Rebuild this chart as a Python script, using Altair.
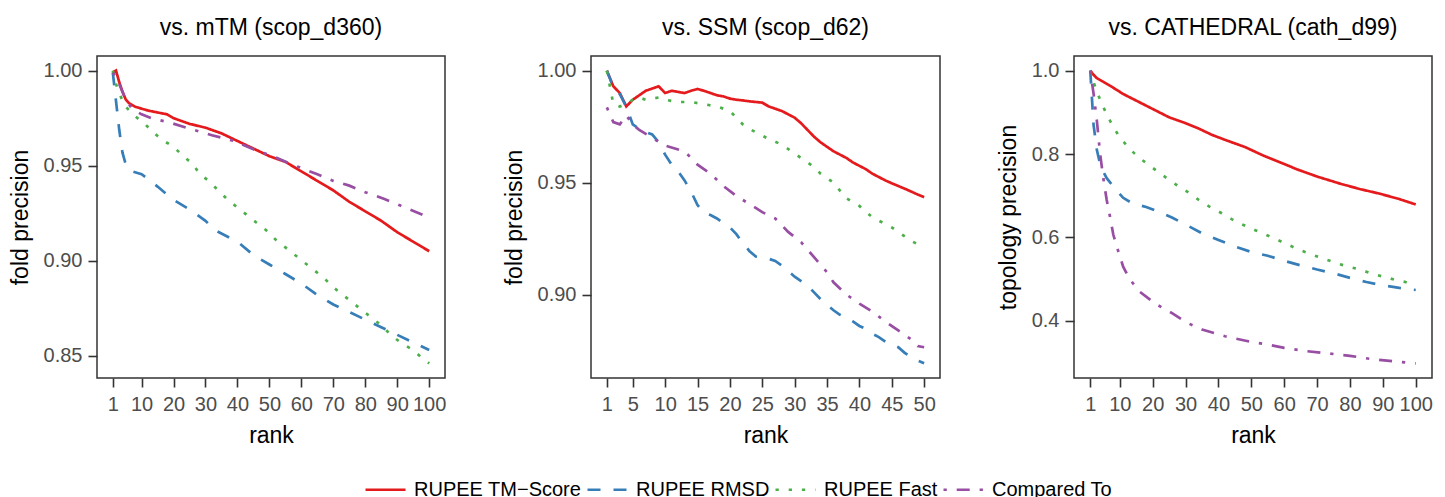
import altair as alt
import pandas as pd

SERIES = ["RUPEE TM\u2212Score", "RUPEE RMSD", "RUPEE Fast", "Compared To"]
COLORS = ["#E41A1C", "#377EB8", "#4DAF4A", "#984EA3"]
DASHES = [[1, 0], [13, 13], [3.3, 9.9], [3.3, 9.9, 13, 9.9]]

# ---------- Panel 1: vs. mTM (scop_d360) ----------
p1_tm_rank = [1, 2, 3, 4, 5, 6, 8, 10, 12, 15, 18, 20, 25, 30, 35, 40, 45, 50, 55, 60, 65, 70, 75, 80, 85, 90, 95, 100]
p1_tm_val = [0.999, 1.000, 0.994, 0.989, 0.985, 0.983, 0.981, 0.980, 0.979, 0.978, 0.977, 0.975, 0.972, 0.970, 0.967,
             0.963, 0.959, 0.955, 0.952, 0.947, 0.942, 0.937, 0.931, 0.926, 0.921, 0.915, 0.910, 0.905]
p1_rmsd_rank = [1, 2, 3, 4, 5, 6, 7, 9, 10, 12, 15, 20, 25, 30, 33, 40, 45, 50, 55, 60, 65, 70, 75, 80, 85, 90, 95, 100]
p1_rmsd_val = [0.999, 0.984, 0.969, 0.957, 0.951, 0.948, 0.947, 0.946, 0.9455, 0.943, 0.939, 0.932, 0.927, 0.921, 0.916,
               0.910, 0.903, 0.898, 0.893, 0.888, 0.882, 0.877, 0.873, 0.869, 0.865, 0.861, 0.857, 0.853]
p1_fast_rank = [1, 2, 3, 5, 8, 11, 14, 17, 20, 23, 26, 28, 31, 34, 37, 40, 43, 46, 49, 52, 55, 58, 61, 64, 67, 70, 73,
                76, 79, 82, 85, 88, 91, 94, 97, 100]
p1_fast_val = [1.000, 0.993, 0.988, 0.981, 0.976, 0.972, 0.967, 0.963, 0.960, 0.955, 0.951, 0.946, 0.942, 0.937, 0.932,
               0.928, 0.924, 0.920, 0.916, 0.911, 0.907, 0.903, 0.899, 0.895, 0.891, 0.886, 0.882, 0.878, 0.874, 0.870,
               0.866, 0.861, 0.857, 0.854, 0.850, 0.846]
p1_cmp_rank = [1, 2, 3, 4, 5, 7, 10, 13, 19, 24, 32, 39, 45, 51, 57, 65, 70, 75, 80, 86, 91, 100]
p1_cmp_val = [0.999, 0.997, 0.993, 0.989, 0.985, 0.980, 0.977, 0.975, 0.9726, 0.970, 0.966, 0.963, 0.9586, 0.955,
              0.9507, 0.9455, 0.942, 0.9395, 0.936, 0.9325, 0.929, 0.9228]

# ---------- Panel 2: vs. SSM (scop_d62) ----------
p2_tm_rank = list(range(1, 51))
p2_tm_val = [1.000, 0.993, 0.990, 0.984, 0.987, 0.989, 0.991, 0.992, 0.993, 0.990, 0.991, 0.9905, 0.990, 0.991, 0.9918,
             0.991, 0.990, 0.989, 0.9885, 0.9875, 0.987, 0.9867, 0.9863, 0.986, 0.9857, 0.984, 0.983, 0.982, 0.9805,
             0.979, 0.9765, 0.9735, 0.9705, 0.968, 0.966, 0.964, 0.9625, 0.961, 0.959, 0.9575, 0.956, 0.954, 0.9525,
             0.951, 0.9497, 0.9485, 0.9473, 0.946, 0.9447, 0.9435]
p2_rmsd_rank = [1, 2, 3, 4, 5, 6, 7, 8, 9, 10, 11, 12, 13, 14, 15, 16, 17, 18, 19, 20, 21, 22, 23, 24, 26, 27, 28, 29,
                30, 31, 32, 33, 34, 35, 36, 37, 38, 39, 40, 41, 42, 43, 44, 45, 46, 47, 48, 49, 50]
p2_rmsd_val = [1.000, 0.9926, 0.9895, 0.984, 0.976, 0.974, 0.9725, 0.9715, 0.968, 0.9625, 0.958, 0.955, 0.951, 0.946,
               0.940, 0.9365, 0.9355, 0.934, 0.932, 0.930, 0.927, 0.923, 0.9195, 0.917, 0.916, 0.915, 0.913, 0.9105,
               0.908, 0.906, 0.904, 0.901, 0.898, 0.8955, 0.893, 0.891, 0.8895, 0.888, 0.886, 0.8847, 0.8825, 0.881,
               0.879, 0.8778, 0.8765, 0.874, 0.872, 0.8705, 0.8693]
p2_fast_rank = [1, 2, 3, 4, 5, 6, 7, 8, 9, 10, 12, 14, 16, 18, 20, 21, 22, 23, 25, 26, 28, 30, 31, 33, 34, 36, 37, 38,
                40, 42, 43, 45, 47, 48, 50]
p2_fast_val = [1.000, 0.985, 0.984, 0.985, 0.987, 0.988, 0.987, 0.9875, 0.988, 0.987, 0.986, 0.986, 0.985, 0.984,
               0.982, 0.979, 0.976, 0.974, 0.971, 0.9695, 0.967, 0.963, 0.961, 0.957, 0.954, 0.950, 0.9464, 0.943,
               0.9396, 0.9345, 0.933, 0.930, 0.926, 0.924, 0.921]
p2_cmp_rank = [1, 2, 3, 4, 5, 6, 8, 10, 13, 15, 17, 19, 21, 23, 25, 27, 29, 31, 33, 35, 36, 38, 40, 42, 44, 46, 48, 49, 50]
p2_cmp_val = [0.9836, 0.977, 0.976, 0.980, 0.976, 0.9735, 0.970, 0.9665, 0.964, 0.958, 0.954, 0.9485, 0.944, 0.9405,
              0.9368, 0.934, 0.928, 0.9234, 0.9167, 0.910, 0.9055, 0.900, 0.896, 0.8924, 0.888, 0.884, 0.880, 0.877,
              0.8765]

# ---------- Panel 3: vs. CATHEDRAL (cath_d99) ----------
p3_tm_rank = [1, 2, 3, 5, 8, 11, 14, 18, 22, 25, 30, 34, 38, 42, 48, 54, 60, 64, 70, 77, 83, 89, 95, 100]
p3_tm_val = [1.000, 0.990, 0.982, 0.973, 0.959, 0.944, 0.932, 0.916, 0.900, 0.888, 0.874, 0.861, 0.846, 0.834, 0.817,
             0.795, 0.776, 0.763, 0.746, 0.729, 0.716, 0.705, 0.692, 0.679]
p3_rmsd_rank = [1, 2, 3, 4, 5, 6, 9, 11, 14, 16, 18, 22, 26, 30, 35, 40, 45, 50, 55, 60, 65, 70, 75, 80, 85, 90, 95, 100]
p3_rmsd_val = [1.000, 0.870, 0.810, 0.775, 0.757, 0.742, 0.713, 0.695, 0.681, 0.677, 0.673, 0.661, 0.647, 0.631, 0.610,
               0.594, 0.578, 0.565, 0.556, 0.544, 0.533, 0.523, 0.514, 0.503, 0.493, 0.485, 0.479, 0.474]
p3_fast_rank = [1, 2, 4, 6, 8, 10, 13, 16, 19, 22, 25, 28, 31, 34, 37, 41, 44, 47, 51, 54, 58, 61, 65, 68, 72, 76, 79,
                83, 86, 90, 94, 97, 100]
p3_fast_val = [1.000, 0.972, 0.930, 0.895, 0.865, 0.840, 0.812, 0.790, 0.773, 0.755, 0.738, 0.722, 0.707, 0.690, 0.675,
               0.658, 0.644, 0.632, 0.618, 0.608, 0.594, 0.583, 0.569, 0.560, 0.549, 0.538, 0.531, 0.523, 0.515, 0.506,
               0.498, 0.493, 0.489]
p3_cmp_rank = [1, 2, 3, 4, 5, 6, 7, 8, 9, 10, 11, 13, 16, 21, 26, 30, 35, 42, 49, 55, 60, 66, 72, 80, 86, 93, 100]
p3_cmp_val = [1.000, 0.945, 0.880, 0.800, 0.740, 0.690, 0.650, 0.607, 0.580, 0.555, 0.530, 0.500, 0.470, 0.440, 0.418,
              0.397, 0.379, 0.363, 0.351, 0.343, 0.335, 0.328, 0.323, 0.316, 0.309, 0.303, 0.298]

PANEL_TITLES = ["vs. mTM (scop_d360)", "vs. SSM (scop_d62)", "vs. CATHEDRAL (cath_d99)"]
Y_TITLES = ["fold precision", "fold precision", "topology precision"]
X_TICKS = [[1, 10, 20, 30, 40, 50, 60, 70, 80, 90, 100],
           [1, 5, 10, 15, 20, 25, 30, 35, 40, 45, 50],
           [1, 10, 20, 30, 40, 50, 60, 70, 80, 90, 100]]
Y_TICKS = [[0.85, 0.90, 0.95, 1.00], [0.90, 0.95, 1.00], [0.4, 0.6, 0.8, 1.0]]
Y_FORMATS = [".2f", ".2f", ".1f"]


def make_df(parts):
    rows = []
    for name, ranks, vals in parts:
        for r, v in zip(ranks, vals):
            rows.append({"rank": r, "value": v, "method": name})
    return pd.DataFrame(rows)


data = [
    make_df([(SERIES[0], p1_tm_rank, p1_tm_val), (SERIES[1], p1_rmsd_rank, p1_rmsd_val),
             (SERIES[2], p1_fast_rank, p1_fast_val), (SERIES[3], p1_cmp_rank, p1_cmp_val)]),
    make_df([(SERIES[0], p2_tm_rank, p2_tm_val), (SERIES[1], p2_rmsd_rank, p2_rmsd_val),
             (SERIES[2], p2_fast_rank, p2_fast_val), (SERIES[3], p2_cmp_rank, p2_cmp_val)]),
    make_df([(SERIES[0], p3_tm_rank, p3_tm_val), (SERIES[1], p3_rmsd_rank, p3_rmsd_val),
             (SERIES[2], p3_fast_rank, p3_fast_val), (SERIES[3], p3_cmp_rank, p3_cmp_val)]),
]


def padded(lo, hi):
    d = (hi - lo) * 0.05
    return [lo - d, hi + d]


widths = [348, 349, 358]
HEIGHT = 322

# legendX / legendY are measured from the top-left corner of the first panel's plot area
legend = alt.Legend(
    title=None, orient="none", legendX=267, legendY=412, direction="horizontal", columns=4,
    symbolType="stroke", symbolSize=1600, symbolStrokeWidth=2.7, labelFontSize=20, labelColor="#000000",
    columnPadding=0, labelOffset=7, labelLimit=400,
)

panels = []
for i in range(3):
    df = data[i]
    xdom = padded(1, max(df["rank"]))
    ydom = padded(min(df["value"]), max(df["value"]))
    ch = alt.Chart(df).mark_line(strokeWidth=2.7, strokeCap="butt", clip=True).encode(
        x=alt.X("rank:Q", scale=alt.Scale(domain=xdom, nice=False, zero=False),
                axis=alt.Axis(title="rank", values=X_TICKS[i], format="d")),
        y=alt.Y("value:Q", scale=alt.Scale(domain=ydom, nice=False, zero=False),
                axis=alt.Axis(title=Y_TITLES[i], values=Y_TICKS[i], format=Y_FORMATS[i])),
        color=alt.Color("method:N", scale=alt.Scale(domain=SERIES, range=COLORS), legend=legend),
        strokeDash=alt.StrokeDash("method:N", scale=alt.Scale(domain=SERIES, range=DASHES), legend=legend),
    ).properties(
        width=widths[i], height=HEIGHT,
        title=alt.TitleParams(PANEL_TITLES[i], fontSize=23, fontWeight="normal", anchor="middle",
                              offset=16, color="#000000"),
    )
    panels.append(ch)

chart = alt.hconcat(*panels, spacing=55).properties(
    padding={"left": 0, "top": 8, "right": 0, "bottom": 0}
).configure(
    font="Liberation Sans"
).configure_view(
    stroke="#333333", strokeWidth=1.5
).configure_axis(
    grid=False, domain=False, tickSize=9, tickWidth=1.6, tickColor="#333333",
    labelColor="#4D4D4D", labelFontSize=20, titleFontSize=23, titleColor="#000000",
    titleFontWeight="normal", labelFlush=False, labelOverlap=False
).configure_axisX(
    labelPadding=7, titlePadding=10
).configure_axisY(
    labelPadding=6, titlePadding=11
)

chart.save("out.html", embed_options={"renderer": "svg", "actions": False})
